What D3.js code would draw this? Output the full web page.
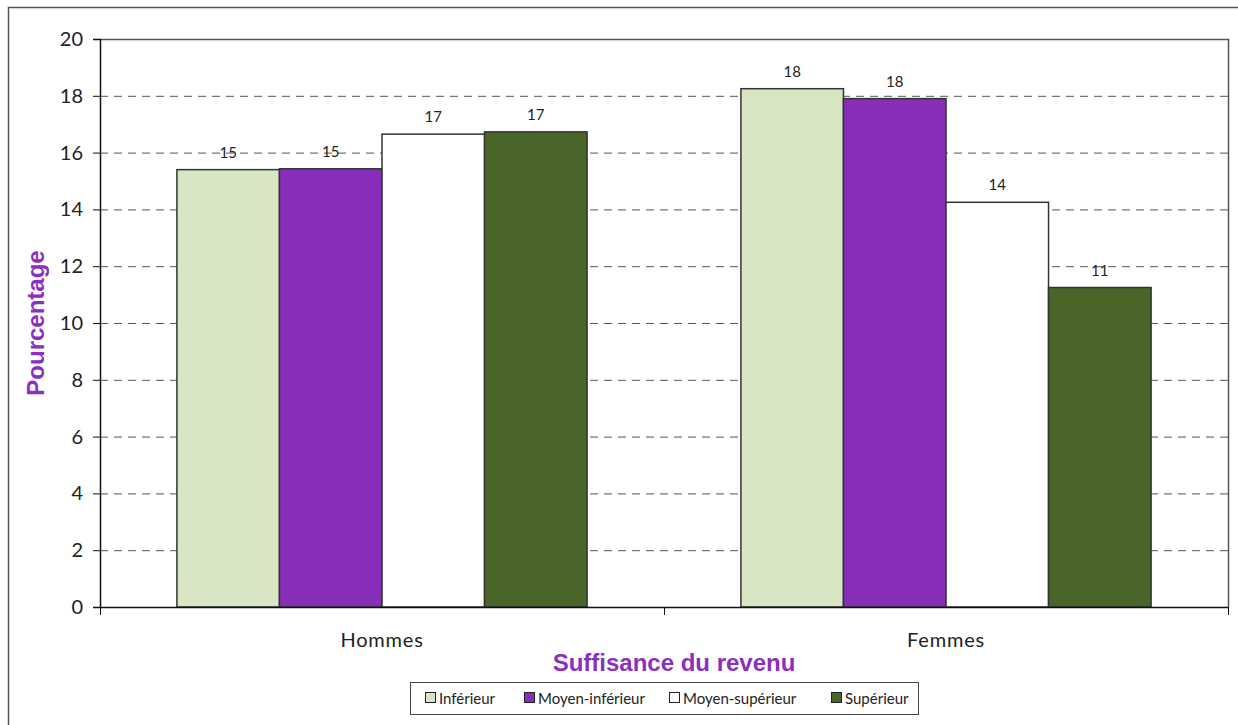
<!DOCTYPE html>
<html>
<head>
<meta charset="utf-8">
<script src="https://cdn.jsdelivr.net/npm/d3@7"></script>
<style>
  html, body { margin: 0; padding: 0; background: #fff; }
  svg { display: block; }
</style>
</head>
<body>
<svg id="chart" width="1238" height="725"></svg>
<script>
const categories = ["Hommes", "Femmes"];
const seriesNames = ["Inférieur", "Moyen-inférieur", "Moyen-supérieur", "Supérieur"];
const seriesColors = ["#d8e6c3", "#872fbb", "#ffffff", "#4a6528"];
const inferieur = [15.4, 18.25];
const moyenInferieur = [15.43, 17.9];
const moyenSuperieur = [16.65, 14.25];
const superieur = [16.73, 11.25];
const yTicks = [0, 2, 4, 6, 8, 10, 12, 14, 16, 18, 20];

const seriesValues = [inferieur, moyenInferieur, moyenSuperieur, superieur];

const svg = d3.select("#chart");
const fontFamily = "Lato, 'Open Sans', sans-serif";

// outer frame
svg.append("rect")
  .attr("x", 8.5).attr("y", 7.5)
  .attr("width", 1250).attr("height", 740)
  .attr("fill", "none").attr("stroke", "#555").attr("stroke-width", 1.5);

const plot = { left: 100, top: 39, right: 1228, bottom: 607 };

const x0 = d3.scaleBand().domain(categories).range([plot.left, plot.right]);
// four bars per category with a gap of 1.5 bar widths around each group
const barW = x0.bandwidth() / 5.5;
const x1 = d3.scaleBand().domain(seriesNames).range([0.75 * barW, 4.75 * barW]);

const y = d3.scaleLinear().domain([0, 20]).range([plot.bottom, plot.top]);

// dashed gridlines
svg.append("g")
  .selectAll("line")
  .data(yTicks.filter(d => d > 0 && d < 20))
  .join("line")
  .attr("x1", plot.left).attr("x2", plot.right)
  .attr("y1", d => y(d) + 0.5).attr("y2", d => y(d) + 0.5)
  .attr("stroke", "#555").attr("stroke-width", 1)
  .attr("stroke-dasharray", "8,6");

// plot border (top and right)
svg.append("path")
  .attr("d", `M${plot.left},${plot.top + 0.5}H${plot.right + 0.5}V${plot.bottom}`)
  .attr("fill", "none").attr("stroke", "#555").attr("stroke-width", 1.5);

// bars
const groups = svg.append("g")
  .selectAll("g")
  .data(categories)
  .join("g")
  .attr("transform", d => `translate(${x0(d)},0)`);

const cells = (c, ci) => seriesNames.map((s, si) => ({ s, si, v: seriesValues[si][ci] }));

groups.selectAll("rect")
  .data(cells)
  .join("rect")
  .attr("x", d => x1(d.s))
  .attr("y", d => y(d.v))
  .attr("width", x1.bandwidth())
  .attr("height", d => y(0) - y(d.v))
  .attr("fill", d => seriesColors[d.si])
  .attr("stroke", "#333").attr("stroke-width", 1.5);

groups.selectAll("text")
  .data(cells)
  .join("text")
  .attr("x", d => x1(d.s) + x1.bandwidth() / 2)
  .attr("y", d => y(d.v) - 12)
  .attr("text-anchor", "middle")
  .attr("font-family", fontFamily)
  .attr("font-size", 15)
  .attr("fill", "#222")
  .text(d => Math.round(d.v));

// y axis
const yAxis = svg.append("g")
  .attr("transform", `translate(${plot.left},0)`)
  .call(d3.axisLeft(y).tickValues(yTicks).tickSize(7).tickPadding(10).tickFormat(d3.format("d")));
yAxis.select(".domain").attr("stroke", "#111").attr("stroke-width", 1.5);
yAxis.selectAll(".tick line").attr("stroke", "#111");
yAxis.selectAll("text")
  .attr("font-family", fontFamily).attr("font-size", 20).attr("fill", "#222");

// x axis
const xAxis = svg.append("g")
  .attr("transform", `translate(0,${plot.bottom})`)
  .call(d3.axisBottom(x0).tickSize(0).tickPadding(26));
xAxis.select(".domain").attr("stroke", "#111").attr("stroke-width", 1.5);
xAxis.selectAll("text")
  .attr("font-family", fontFamily).attr("font-size", 20)
  .attr("letter-spacing", 0.8).attr("fill", "#222");
// boundary ticks between categories
svg.append("g")
  .selectAll("line")
  .data([plot.left, x0("Femmes"), plot.right])
  .join("line")
  .attr("x1", d => d + 0.5).attr("x2", d => d + 0.5)
  .attr("y1", plot.bottom).attr("y2", plot.bottom + 8)
  .attr("stroke", "#111").attr("stroke-width", 1);

// axis titles
svg.append("text")
  .attr("transform", `translate(44,${(plot.top + plot.bottom) / 2}) rotate(-90)`)
  .attr("text-anchor", "middle")
  .attr("font-family", "'Liberation Sans', Arial, sans-serif")
  .attr("font-weight", "bold").attr("font-size", 24)
  .attr("fill", "#8a2fbf")
  .text("Pourcentage");

svg.append("text")
  .attr("x", 674)
  .attr("y", 671)
  .attr("text-anchor", "middle")
  .attr("font-family", "'Liberation Sans', Arial, sans-serif")
  .attr("font-weight", "bold").attr("font-size", 24)
  .attr("fill", "#8a2fbf")
  .text("Suffisance du revenu");

// legend
const legend = svg.append("g");
legend.append("rect")
  .attr("x", 410.5).attr("y", 682.5).attr("width", 508).attr("height", 32)
  .attr("fill", "#fff").attr("stroke", "#444").attr("stroke-width", 1);
const legendX = [425, 524, 669, 831];
const items = legend.selectAll("g.item")
  .data(seriesNames)
  .join("g")
  .attr("class", "item")
  .attr("transform", (d, i) => `translate(${legendX[i]},698)`);
items.append("rect")
  .attr("x", 0.5).attr("y", -5.5).attr("width", 10).attr("height", 10)
  .attr("fill", (d, i) => seriesColors[i]).attr("stroke", "#222").attr("stroke-width", 1);
items.append("text")
  .attr("x", 14).attr("y", 5.5)
  .attr("font-family", fontFamily).attr("font-size", 15).attr("fill", "#222")
  .text(d => d);
</script>
</body>
</html>
